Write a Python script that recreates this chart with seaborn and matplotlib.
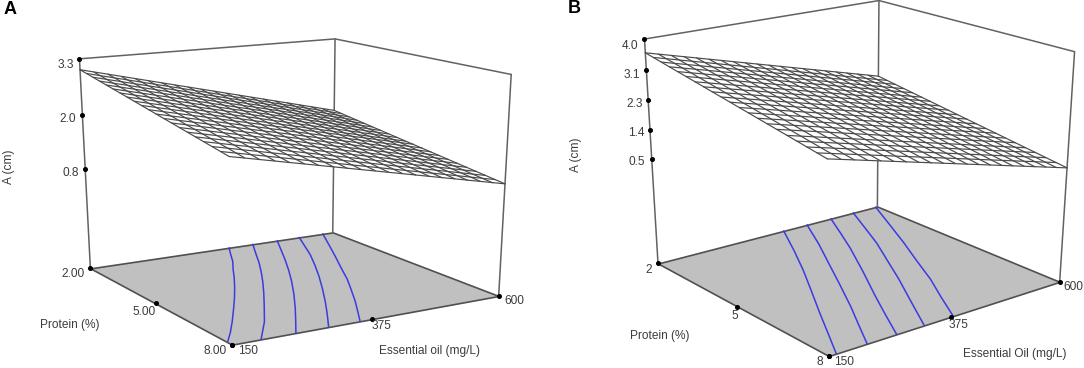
import numpy as np
import matplotlib
matplotlib.use("Agg")
import matplotlib.pyplot as plt
import seaborn as sns
from mpl_toolkits.mplot3d.art3d import Poly3DCollection

sns.set_theme(style="white")
plt.rcParams["font.family"] = ["Liberation Sans", "DejaVu Sans"]

# Axis grids of the response surface
oil_grid = [150, 172.5, 195, 217.5, 240, 262.5, 285, 307.5, 330, 352.5, 375,
            397.5, 420, 442.5, 465, 487.5, 510, 532.5, 555, 577.5, 600]
protein_grid = [2.0, 2.3, 2.6, 2.9, 3.2, 3.5, 3.8, 4.1, 4.4, 4.7, 5.0,
                5.3, 5.6, 5.9, 6.2, 6.5, 6.8, 7.1, 7.4, 7.7, 8.0]

# Panel A: surface height along its four edges
a_low_protein = [3.06, 2.98, 2.91, 2.83, 2.76, 2.68, 2.61, 2.53, 2.46, 2.38, 2.31,
                 2.23, 2.16, 2.08, 2.01, 1.93, 1.86, 1.78, 1.71, 1.63, 1.56]
a_high_protein = [2.26, 2.20, 2.13, 2.07, 2.00, 1.94, 1.87, 1.81, 1.74, 1.68, 1.62,
                  1.55, 1.49, 1.42, 1.36, 1.29, 1.23, 1.16, 1.10, 1.03, 0.97]
a_low_oil = [3.06, 3.02, 2.98, 2.94, 2.90, 2.86, 2.82, 2.78, 2.74, 2.70, 2.66,
             2.62, 2.58, 2.54, 2.50, 2.46, 2.42, 2.38, 2.34, 2.30, 2.26]
a_high_oil = [1.56, 1.53, 1.50, 1.47, 1.44, 1.41, 1.38, 1.35, 1.32, 1.29, 1.27,
              1.24, 1.21, 1.18, 1.15, 1.12, 1.09, 1.06, 1.03, 1.00, 0.97]

# Panel B: surface height along its four edges
b_low_protein = [3.61, 3.51, 3.41, 3.31, 3.21, 3.11, 3.01, 2.91, 2.81, 2.71, 2.61,
                 2.51, 2.41, 2.31, 2.21, 2.11, 2.01, 1.91, 1.81, 1.71, 1.61]
b_high_protein = [2.59, 2.50, 2.40, 2.31, 2.21, 2.12, 2.02, 1.93, 1.83, 1.74, 1.65,
                  1.55, 1.46, 1.36, 1.27, 1.17, 1.08, 0.98, 0.89, 0.79, 0.70]
b_low_oil = [3.61, 3.56, 3.51, 3.46, 3.41, 3.36, 3.30, 3.25, 3.20, 3.15, 3.10,
             3.05, 3.00, 2.95, 2.90, 2.85, 2.79, 2.74, 2.69, 2.64, 2.59]
b_high_oil = [1.61, 1.56, 1.52, 1.47, 1.43, 1.38, 1.34, 1.29, 1.25, 1.20, 1.16,
              1.11, 1.06, 1.02, 0.97, 0.93, 0.88, 0.84, 0.79, 0.75, 0.70]

# Contours on the floor: (essential oil, protein)
a_contours = [
    ([398, 380, 361, 338, 315, 289, 262, 232, 202, 175, 152],
     [2.0, 2.5, 3.04, 3.6, 4.19, 4.82, 5.45, 6.12, 6.78, 7.35, 7.8]),
    ([443, 418, 392, 368, 343, 313, 282, 240, 195],
     [2.0, 2.7, 3.44, 4.07, 4.7, 5.42, 6.14, 7.1, 8.0]),
    ([490, 464, 438, 410, 381, 347, 312, 281, 250],
     [2.0, 2.74, 3.48, 4.24, 4.99, 5.82, 6.63, 7.32, 8.0]),
    ([533, 511, 489, 461, 432, 398, 363, 333, 303],
     [2.0, 2.7, 3.4, 4.18, 4.95, 5.8, 6.64, 7.33, 8.0]),
    ([580, 549, 518, 488, 459, 432, 405, 380, 356],
     [2.0, 2.9, 3.79, 4.63, 5.46, 6.15, 6.83, 7.42, 7.98]),
]
b_contours = [
    ([397, 356, 316, 274, 232, 197, 163], [2.0, 3.14, 4.2, 5.24, 6.27, 7.15, 8.0]),
    ([446, 406, 366, 325, 284, 251, 218], [2.0, 3.15, 4.21, 5.3, 6.37, 7.18, 8.0]),
    ([497, 466, 435, 387, 338, 305, 272], [2.0, 2.9, 3.78, 5.03, 6.26, 7.12, 8.0]),
    ([546, 515, 484, 447, 410, 367, 324], [2.0, 2.95, 3.89, 4.87, 5.85, 6.92, 8.0]),
    ([596, 558, 520, 484, 449, 414, 380], [2.0, 3.13, 4.25, 5.25, 6.25, 7.12, 8.0]),
]

oil_ticks = [150, 375, 600]
protein_ticks = [2, 5, 8]
a_z_ticks = [0.8, 2.05, 3.3]
b_z_ticks = [0.5, 1.375, 2.25, 3.125, 4.0]
a_floor, a_top = -1.56, 3.3
b_floor, b_top = -2.77, 4.0

FRAME = "#626262"
EDGE = "#505050"
WIRE = "#4a4a4a"
FLOOR = "#c0c0c0"
BLUE = "#3b3be0"
TEXT = "#3c3c3c"
W, H = 1084, 368


def fit_camera(world, pixels, weights):
    # 3x4 camera matrix from known box points to image pixels
    scale = np.diag([1 / 450, 1 / 6, 1 / 5, 1.0])
    rows = []
    for (a, b, c), (u, v), wt in zip(world, pixels, weights):
        X = scale @ np.array([a, b, c, 1.0])
        u, v = u / 1000, v / 1000
        rows.append(wt * np.r_[X, 0, 0, 0, 0, -u * X])
        rows.append(wt * np.r_[0, 0, 0, 0, X, -v * X])
    P = np.linalg.svd(np.array(rows))[2][-1].reshape(3, 4)
    return np.diag([1000, 1000, 1.0]) @ P @ scale


def new_axes(camera):
    # square 3d axes as wide as the figure, with the fitted camera as its view
    h = W / H
    ax = fig.add_axes([0, (1 - h) / 2, 1, h], projection="3d", computed_zorder=False)
    ax.set_axis_off()
    ax.patch.set_visible(False)
    flip = np.array([[1, 0, 0], [0, -1, H], [0, 0, 1.0]])
    homog = flip @ camera
    depth = np.linalg.svd(homog)[2][-1]

    def get_proj():
        ax.apply_aspect()
        uvw = ax.transData.inverted().get_matrix() @ homog
        return np.vstack([uvw[0], uvw[1], depth, uvw[2]])

    ax.get_proj = get_proj
    return ax


def draw_panel(ax, floor, top, z_ticks, low_p, high_p, low_o, high_o, contours):
    o0, o1 = oil_grid[0], oil_grid[-1]
    p0, p1 = protein_grid[0], protein_grid[-1]

    base = [(o0, p0, floor), (o1, p0, floor), (o1, p1, floor), (o0, p1, floor)]
    ax.add_collection3d(Poly3DCollection([base], facecolors=FLOOR, edgecolors=EDGE,
                                         linewidths=1.2, zorder=1))
    for oil, protein in contours:
        ax.plot(oil, protein, zs=floor, color=BLUE, lw=1.1, zorder=2)

    # back walls
    ax.plot([o0, o0], [p0, p0], [floor, top], color=FRAME, lw=1.1, zorder=3)
    ax.plot([o1, o1], [p0, p0], [floor, top], color=FRAME, lw=1.1, zorder=3)
    ax.plot([o1, o1], [p1, p1], [floor, top], color=FRAME, lw=1.1, zorder=3)
    ax.plot([o0, o1, o1], [p0, p0, p1], [top, top, top], color=FRAME, lw=1.1, zorder=3)

    # white sheet hides the back edge, then the wires go on it
    sheet = [(o0, p0, low_p[0]), (o1, p0, low_p[-1]), (o1, p1, high_p[-1]), (o0, p1, high_p[0])]
    ax.add_collection3d(Poly3DCollection([sheet], facecolors="white", edgecolors="none", zorder=4))
    for oil, z0, z1 in zip(oil_grid, low_p, high_p):
        ax.plot([oil, oil], [p0, p1], [z0, z1], color=WIRE, lw=0.85, zorder=5)
    for protein, z0, z1 in zip(protein_grid, low_o, high_o):
        ax.plot([o0, o1], [protein, protein], [z0, z1], color=WIRE, lw=0.85, zorder=5)

    # tick dots
    dot = dict(ls="none", marker="o", ms=2.6, color="black", zorder=6)
    ax.plot([o0] * len(z_ticks), [p0] * len(z_ticks), z_ticks, **dot)
    ax.plot([o0] * 3, protein_ticks, [floor] * 3, **dot)
    ax.plot(oil_ticks, [p1] * 3, [floor] * 3, **dot)


def label(x, y, s, **kw):
    kw.setdefault("fontsize", 8.6)
    kw.setdefault("color", TEXT)
    fig.text(x / W, 1 - y / H, s, ha="center", va="center", **kw)


fig = plt.figure(figsize=(W / 100, H / 100), dpi=100)

# Camera calibration, box points against where they sit in the image
a_world = [(150, 2, a_floor), (150, 8, a_floor), (600, 8, a_floor), (600, 2, a_floor),
           (150, 2, a_top), (600, 2, a_top), (600, 8, a_top),
           (150, 5, a_floor), (375, 8, a_floor), (150, 2, 2.05), (150, 2, 0.8)]
a_image = [(90.5, 268.7), (231.7, 344.5), (499.1, 295.7), (332.5, 232.3),
           (79.4, 58.7), (335.1, 39), (511.2, 74.7),
           (161.7, 306.3), (365.5, 320.8), (82.7, 112.7), (84.9, 166.7)]
a_wt = [4, 4, 4, 4, 4, 4, 4, 1, 1, 1, 1]
b_world = [(150, 2, b_floor), (150, 8, b_floor), (600, 8, b_floor), (600, 2, b_floor),
           (150, 2, b_top), (600, 2, b_top), (600, 8, b_top),
           (150, 5, b_floor), (375, 8, b_floor), (150, 2, 3.125), (150, 2, 2.25),
           (150, 2, 1.375), (150, 2, 0.5)]
b_image = [(658, 263.7), (828.8, 356), (1059.8, 281.7), (877.4, 206.5),
           (644.5, 39.3), (878.9, 0.7), (1074.7, 51.7),
           (743.1, 309.7), (943.8, 318.5), (646, 68.7), (647.7, 97.3),
           (649.3, 126.3), (651.5, 155.3)]
b_wt = [4, 4, 4, 4, 4, 4, 4, 1, 1, 1, 1, 1, 1]

ax_a = new_axes(fit_camera(a_world, a_image, a_wt))
draw_panel(ax_a, a_floor, a_top, a_z_ticks, a_low_protein, a_high_protein,
           a_low_oil, a_high_oil, a_contours)
ax_b = new_axes(fit_camera(b_world, b_image, b_wt))
draw_panel(ax_b, b_floor, b_top, b_z_ticks, b_low_protein, b_high_protein,
           b_low_oil, b_high_oil, b_contours)

label(10.4, 9, "A", fontsize=13, fontweight="bold", color="black")
label(65.6, 64.7, "3.3")
label(68, 118.7, "2.0")
label(70.8, 172.7, "0.8")
label(8.6, 166.7, "A (cm)", rotation=90)
label(72.5, 274.3, "2.00")
label(144, 312.3, "5.00")
label(215.2, 350.7, "8.00")
label(248, 350.7, "150")
label(381.3, 326, "375")
label(514.7, 301.3, "600")
label(69.8, 325, "Protein (%)")
label(429.4, 350.7, "Essential oil (mg/L)")

label(574.7, 8.3, "B", fontsize=13, fontweight="bold", color="black")
label(630.3, 46, "4.0")
label(631.7, 75, "3.1")
label(634.4, 103.7, "2.3")
label(636.2, 133, "1.4")
label(637.2, 162, "0.5")
label(576.5, 155, "A (cm)", rotation=90)
label(649, 270, "2")
label(734.4, 315.7, "5")
label(819.5, 362.3, "8")
label(843.8, 362.3, "150")
label(959, 324.7, "375")
label(1073.7, 287, "600")
label(659.4, 336.3, "Protein (%)")
label(1014.3, 354, "Essential Oil (mg/L)")

fig.savefig("out.png", dpi=100)
